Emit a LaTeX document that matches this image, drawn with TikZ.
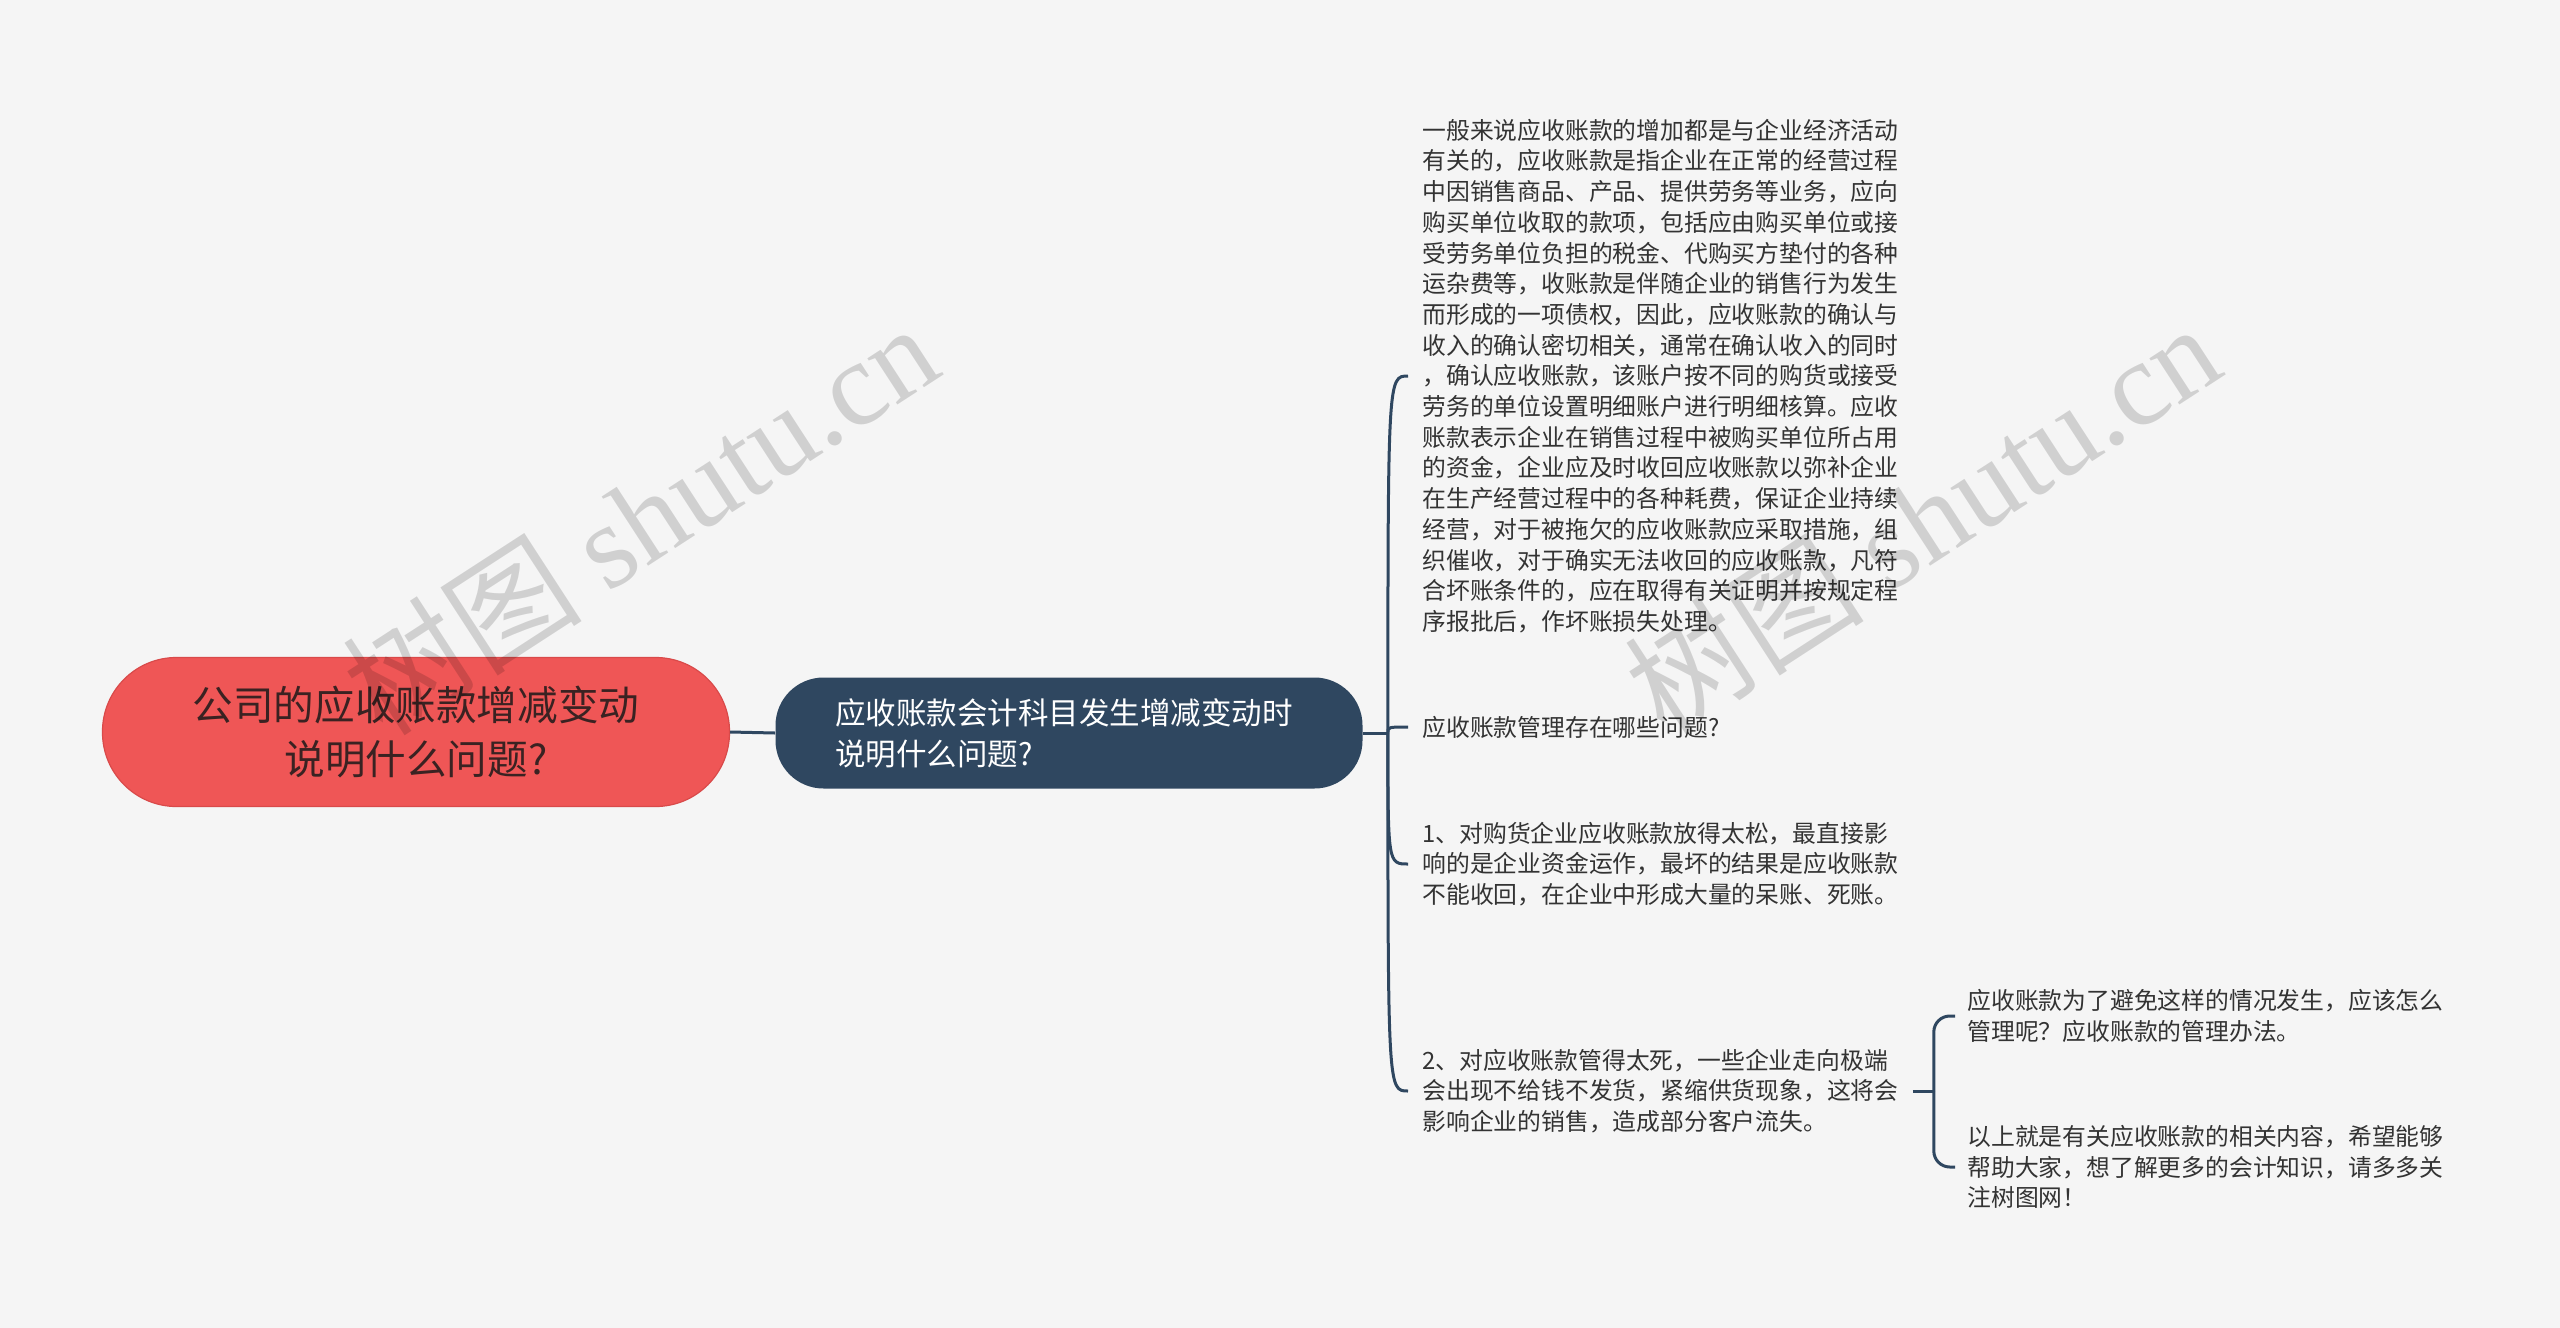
\documentclass[tikz,border=0pt]{standalone}
\usepackage{fontspec}
\setmainfont{Noto Sans CJK SC}
\newfontfamily\wmserif{Liberation Serif}
\usetikzlibrary{calc}
\definecolor{bgc}{HTML}{F5F5F5}
\definecolor{rootc}{HTML}{EF5656}
\definecolor{rootb}{HTML}{D94A4A}
\definecolor{mainc}{HTML}{2F4760}
\definecolor{txtc}{HTML}{333333}
\definecolor{roottxt}{HTML}{3A2222}
\tikzset{
  rootbox/.style={fill=rootc, draw=rootb, line width=0.6pt, rounded corners=37pt,
    minimum width=313.5pt, minimum height=74.5pt, inner sep=0pt,
    text=roottxt, align=center, font=\fontsize{20.3}{26.9}\selectfont},
  mainbox/.style={fill=mainc, rounded corners=24pt,
    minimum width=293.5pt, minimum height=55.5pt, inner sep=0pt,
    text=white, align=left, text width=234pt, font=\fontsize{15.25}{20.4}\selectfont},
  leaf/.style={anchor=west, inner sep=0pt, text=txtc, align=left, text width=240pt,
    font=\fontsize{11.9}{15.35}\selectfont},
  conn/.style={draw=mainc, line width=1.5pt},
  wm/.style={rotate=33, text=black, text opacity=0.15, font=\fontsize{60}{64}\selectfont}
}
\begin{document}
\begin{tikzpicture}[x=0.5pt,y=-0.5pt]
\useasboundingbox (0,0) rectangle (2560,1328);
\fill[bgc] (0,0) rectangle (2560,1328);

\node[rootbox] (root) at (416,732) {公司的应收账款增减变动\\说明什么问题?};
\node[mainbox] (main) at (1069,733) {应收账款会计科目发生增减变动时\\说明什么问题?};

\node[leaf] (l1) at (1422,376) {一般来说应收账款的增加都是与企业经济活动\\有关的，应收账款是指企业在正常的经营过程\\中因销售商品、产品、提供劳务等业务，应向\\购买单位收取的款项，包括应由购买单位或接\\受劳务单位负担的税金、代购买方垫付的各种\\运杂费等，收账款是伴随企业的销售行为发生\\而形成的一项债权，因此，应收账款的确认与\\收入的确认密切相关，通常在确认收入的同时\\，确认应收账款，该账户按不同的购货或接受\\劳务的单位设置明细账户进行明细核算。应收\\账款表示企业在销售过程中被购买单位所占用\\的资金，企业应及时收回应收账款以弥补企业\\在生产经营过程中的各种耗费，保证企业持续\\经营，对于被拖欠的应收账款应采取措施，组\\织催收，对于确实无法收回的应收账款，凡符\\合坏账条件的，应在取得有关证明并按规定程\\序报批后，作坏账损失处理。};
\node[leaf] (l2) at (1422,727) {应收账款管理存在哪些问题?};
\node[leaf] (l3) at (1422,864) {1、对购货企业应收账款放得太松，最直接影\\响的是企业资金运作，最坏的结果是应收账款\\不能收回，在企业中形成大量的呆账、死账。};
\node[leaf] (l4) at (1422,1091) {2、对应收账款管得太死，一些企业走向极端\\会出现不给钱不发货，紧缩供货现象，这将会\\影响企业的销售，造成部分客户流失。};
\node[leaf] (l5) at (1967,1016) {应收账款为了避免这样的情况发生，应该怎么\\管理呢？应收账款的管理办法。};
\node[leaf] (l6) at (1967,1167) {以上就是有关应收账款的相关内容，希望能够\\帮助大家，想了解更多的会计知识，请多多关\\注树图网！};

\coordinate (fork1) at ([xshift=12.5pt]main.east);
\draw[conn] (root.east) -- (main.west);
\draw[conn] (main.east) -- (fork1);
\foreach \n in {l1,l2,l3,l4}{
  \draw[conn] (fork1) .. controls (fork1 |- \n.west) .. ([xshift=-7pt]\n.west);
}
\coordinate (fork2) at ([xshift=15.5pt]l4.east);
\draw[conn] ([xshift=5pt]l4.east) -- (fork2);
\draw[conn, rounded corners=8pt] (fork2) |- ([xshift=-6pt]l5.west);
\draw[conn, rounded corners=8pt] (fork2) |- ([xshift=-6pt]l6.west);

\node[wm] (wm1) at (640,518) {树图 {\wmserif shutu.cn}};
\node[wm] (wm2) at (1922,518) {树图 {\wmserif shutu.cn}};
\end{tikzpicture}
\end{document}
